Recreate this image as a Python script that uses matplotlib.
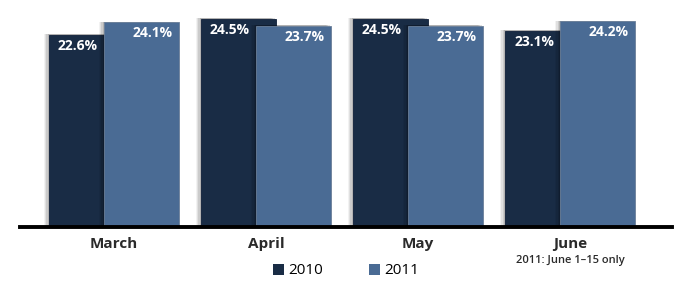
import matplotlib
matplotlib.use("Agg")
import matplotlib.pyplot as plt
import matplotlib.patheffects as pe
from matplotlib.patches import Patch
import numpy as np

months = ["March", "April", "May", "June"]
v2010 = [22.6, 24.5, 24.5, 23.1]
v2011 = [24.1, 23.7, 23.7, 24.2]
series_names = ["2010", "2011"]
note = "2011: June 1–15 only"

c2010 = "#192c45"
c2011 = "#4a6b94"

plt.rcParams['font.family'] = ['Open Sans', 'DejaVu Sans']

fig = plt.figure(figsize=(6.84, 2.89), dpi=100)
ax = fig.add_axes([20/684, 62/289, 652/684, 227/289])

x = np.arange(len(months))
w = 0.493
off = 0.181

shadow = [pe.SimplePatchShadow(offset=(-d, 0.3), shadow_rgbFace='black', alpha=a)
          for d, a in ((3.5, 0.05), (2.6, 0.07), (1.8, 0.09), (1.0, 0.12))] + [pe.Normal()]

b1 = ax.bar(x - off, v2010, width=w, color=c2010, edgecolor='#10203a', linewidth=0.6, zorder=2)
b2 = ax.bar(x + off, v2011, width=w, color=c2011, edgecolor='#6b7f99', linewidth=0.6, zorder=3)
for b in list(b1) + list(b2):
    b.set_path_effects(shadow)

for i in range(len(months)):
    ax.annotate(f"{v2010[i]:.1f}%", xy=(x[i] + off - w/2, v2010[i]), xytext=(-6, -4),
                textcoords='offset pixels', ha='right', va='top', color='white',
                fontsize=10, fontweight='bold', zorder=5)
    ax.annotate(f"{v2011[i]:.1f}%", xy=(x[i] + off + w/2, v2011[i]), xytext=(-6, -4),
                textcoords='offset pixels', ha='right', va='top', color='white',
                fontsize=10, fontweight='bold', zorder=5)

ax.set_xlim(-0.618, 3.671)
ax.set_ylim(0, 26.7)
for s in ['top', 'right', 'left']:
    ax.spines[s].set_visible(False)
ax.spines['bottom'].set_linewidth(2.8)
ax.spines['bottom'].set_color('black')
ax.spines['bottom'].set_zorder(6)
ax.set_yticks([])
ax.set_xticks(x)
ax.set_xticklabels(months, fontsize=11, fontweight='bold', color='#2a2a2a')
ax.tick_params(axis='x', length=0, pad=7)

ax.annotate(note, xy=(x[3], 0), xycoords=('data', 'axes fraction'), xytext=(0, -34),
            textcoords='offset pixels', ha='center', va='center', fontsize=8,
            fontweight='semibold', color='#2a2a2a')

handles = [Patch(facecolor=c2010, edgecolor='none'), Patch(facecolor=c2011, edgecolor='none')]
fig.legend(handles, series_names, loc='center', bbox_to_anchor=(346/684, 1 - 271/289),
           ncol=2, frameon=False, fontsize=11, handlelength=0.75, handleheight=0.75,
           handletextpad=0.25, columnspacing=3.0)

fig.savefig("out.png", dpi=100, facecolor='white')
